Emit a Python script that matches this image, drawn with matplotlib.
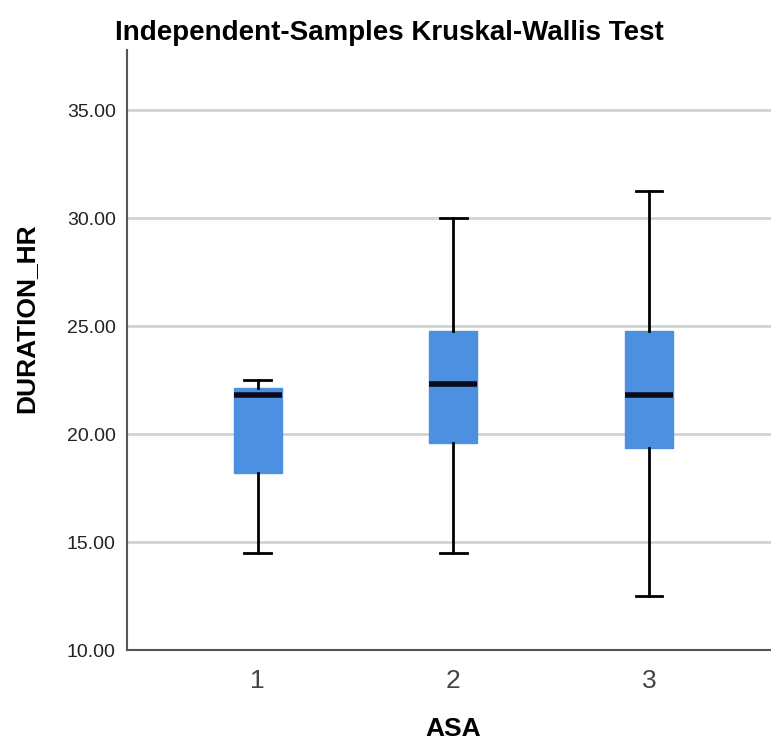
import matplotlib
matplotlib.use('Agg')
import matplotlib.pyplot as plt

# Box summary values (hours)
groups = ['1', '2', '3']
whisker_low = [14.5, 14.5, 12.5]
q1 = [18.2, 19.6, 19.35]
median = [21.8, 22.3, 21.8]
q3 = [22.15, 24.75, 24.75]
whisker_high = [22.5, 30.0, 31.25]
y_ticks = [10, 15, 20, 25, 30, 35]

BOX_COLOR = '#4d8fe0'

plt.rcParams['font.family'] = ['Liberation Sans', 'DejaVu Sans']

stats = []
for i, g in enumerate(groups):
    stats.append({
        'label': g,
        'whislo': whisker_low[i],
        'q1': q1[i],
        'med': median[i],
        'q3': q3[i],
        'whishi': whisker_high[i],
        'fliers': [],
    })

fig = plt.figure(figsize=(7.71, 7.44), dpi=100)
ax = fig.add_axes([0.1647, 0.1263, 0.8353, 0.8065])

ax.bxp(stats, positions=[1, 2, 3], widths=0.245, capwidths=0.135,
       patch_artist=True, showfliers=False,
       boxprops=dict(facecolor=BOX_COLOR, edgecolor=BOX_COLOR, linewidth=1),
       medianprops=dict(color='#0a0a1a', linewidth=4, solid_capstyle='butt'),
       whiskerprops=dict(color='black', linewidth=2),
       capprops=dict(color='black', linewidth=2))

ax.set_xlim(0.332, 3.623)
ax.set_ylim(10, 37.78)
ax.set_yticks(y_ticks)
ax.set_yticklabels([f'{v:.2f}' for v in y_ticks], fontsize=14, color='#222222')
ax.set_xticks([1, 2, 3])
ax.set_xticklabels(groups, fontsize=19, color='#444444')
ax.tick_params(axis='both', length=0)
ax.tick_params(axis='y', pad=8)
ax.tick_params(axis='x', pad=14)

ax.set_axisbelow(True)
for v in y_ticks[1:]:
    ax.axhline(v, color='#d3d3d3', linewidth=2, zorder=0)

for side in ['top', 'right']:
    ax.spines[side].set_visible(False)
for side in ['left', 'bottom']:
    ax.spines[side].set_color('#555555')
    ax.spines[side].set_linewidth(1.5)

fig.text(0.505, 1 - 40 / 744, 'Independent-Samples Kruskal-Wallis Test',
         ha='center', va='baseline', fontsize=20, fontweight='bold', color='black')
fig.text(26.5 / 771, 1 - 318 / 744, 'DURATION_HR', rotation=90,
         ha='center', va='center', fontsize=19, fontweight='bold', color='black')
fig.text(453 / 771, 1 - 729 / 744, 'ASA', ha='center', va='center',
         fontsize=19, fontweight='bold', color='black')

fig.savefig('out.png', dpi=100)
